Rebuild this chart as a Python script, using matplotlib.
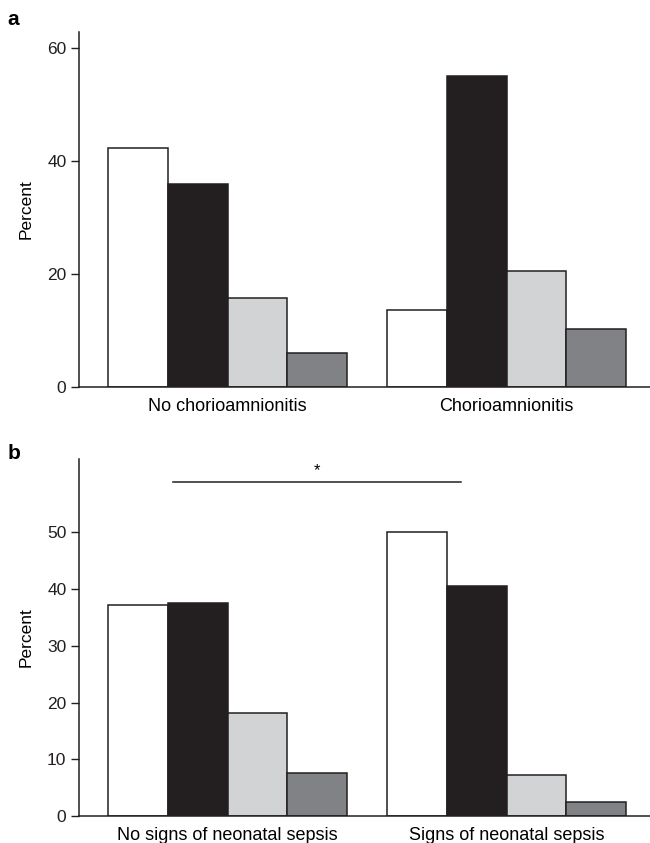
import numpy as np
import matplotlib.pyplot as plt

plt.rcParams['font.family'] = ['Liberation Sans', 'DejaVu Sans']

# panel a
groups_a = ['No chorioamnionitis', 'Chorioamnionitis']
vals_a = [[42.3, 13.7],   # white
          [35.9, 55.2],   # black
          [15.7, 20.6],   # light grey
          [6.1, 10.3]]    # dark grey
ticks_a = [0, 20, 40, 60]

# panel b
groups_b = ['No signs of neonatal sepsis', 'Signs of neonatal sepsis']
vals_b = [[37.1, 50.0],
          [37.6, 40.6],
          [18.1, 7.2],
          [7.5, 2.5]]
ticks_b = [0, 10, 20, 30, 40, 50]

colors = ['#ffffff', '#231f20', '#d1d3d4', '#808285']
bw = 0.214

fig = plt.figure(figsize=(6.5, 8.43), dpi=100)
ax_a = fig.add_axes([0.1215, 0.5409, 0.8785, 0.421])
ax_b = fig.add_axes([0.1215, 0.032, 0.8785, 0.4235])


def draw(ax, groups, vals, ticks):
    x = np.arange(len(groups))
    for i, v in enumerate(vals):
        ax.bar(x + (i - 1.5) * bw, v, bw, color=colors[i], edgecolor='#231f20', linewidth=1.1)
    ax.set_xlim(-0.533, 1.514)
    ax.set_ylim(0, 62.9)
    ax.set_yticks(ticks)
    ax.set_xticks(x)
    ax.set_xticklabels(groups, fontsize=13)
    ax.tick_params(axis='x', length=0, pad=8)
    ax.tick_params(axis='y', length=6, width=1, labelsize=12.5, pad=3, colors='#231f20')
    for s in ['top', 'right']:
        ax.spines[s].set_visible(False)
    for s in ['left', 'bottom']:
        ax.spines[s].set_linewidth(1.1)
        ax.spines[s].set_color('#231f20')
    ax.set_ylabel('Percent', fontsize=12.5, labelpad=10)


draw(ax_a, groups_a, vals_a, ticks_a)
draw(ax_b, groups_b, vals_b, ticks_b)

# significance bar
ax_b.plot([-0.196, 0.836], [58.8, 58.8], color='#231f20', lw=1.1, clip_on=False)
ax_b.text(0.32, 59.6, '*', ha='center', va='bottom', fontsize=12)

fig.text(0.012, 0.988, 'a', fontsize=15, fontweight='bold', va='top')
fig.text(0.012, 0.473, 'b', fontsize=15, fontweight='bold', va='top')

fig.savefig('out.png', dpi=100)
